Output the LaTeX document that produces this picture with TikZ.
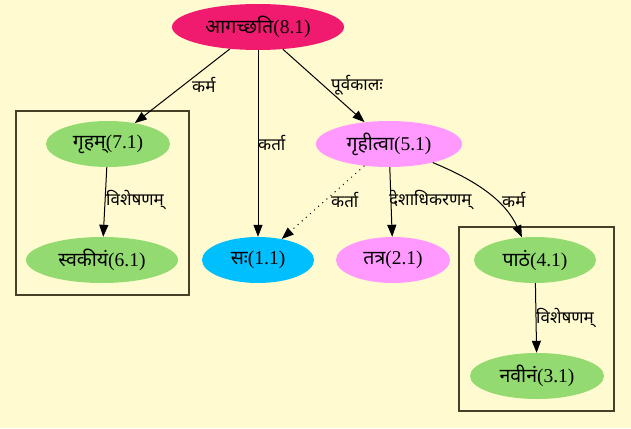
\documentclass[tikz,border=0pt]{standalone}
\usepackage{fontspec}
\setmainfont{Liberation Serif}
\newfontfamily\dev[Script=Devanagari]{Noto Sans}
\usetikzlibrary{shapes.geometric,arrows.meta}
\definecolor{bgc}{RGB}{255,250,208}
\definecolor{pinkc}{RGB}{240,26,110}
\definecolor{greenc}{RGB}{147,219,112}
\definecolor{bluec}{RGB}{0,191,255}
\definecolor{violc}{RGB}{255,153,255}
\definecolor{boxc}{RGB}{70,64,40}
\tikzset{
  nd/.style={ellipse, inner sep=0pt, font=\fontsize{19.5}{22}\selectfont},
  arr/.style={-{Triangle[length=12pt,width=9pt]}, line width=1pt},
  dotarr/.style={arr, dash pattern=on 1pt off 4.5pt},
  lbl/.style={anchor=west, inner sep=0pt, font=\fontsize{17}{19}\selectfont},
  clus/.style={draw=boxc, line width=1.1pt}
}
\begin{document}
\begin{tikzpicture}[x=1pt,y=-1pt]
\fill[bgc] (0,0) rectangle (631,428);
\useasboundingbox (0,0) rectangle (631,428);
\draw[clus] (16,111) rectangle (189,295);
\draw[clus] (459,227) rectangle (614,411);
\node[nd, fill=pinkc, minimum width=172pt, minimum height=46pt] (n8) at (258,27) {\dev आगच्छति\rmfamily(8.1)};
\node[nd, fill=greenc, minimum width=124pt, minimum height=46pt] (n7) at (108,144) {\dev गृहम्\rmfamily(7.1)};
\node[nd, fill=greenc, minimum width=152pt, minimum height=46pt] (n6) at (102,260) {\dev स्वकीयं\rmfamily(6.1)};
\node[nd, fill=bluec, minimum width=112pt, minimum height=46pt] (n1) at (258,260) {\dev सः\rmfamily(1.1)};
\node[nd, fill=violc, minimum width=146pt, minimum height=46pt] (n5) at (389,144) {\dev गृहीत्वा\rmfamily(5.1)};
\node[nd, fill=violc, minimum width=114pt, minimum height=46pt] (n2) at (393,260) {\dev तत्र\rmfamily(2.1)};
\node[nd, fill=greenc, minimum width=122pt, minimum height=46pt] (n4) at (535,260) {\dev पाठं\rmfamily(4.1)};
\node[nd, fill=greenc, minimum width=134pt, minimum height=46pt] (n3) at (537,376) {\dev नवीनं\rmfamily(3.1)};
\draw[arr] (n8) -- (n7);
\draw[arr] (n8) -- (n1);
\draw[arr] (n8) -- (n5);
\draw[arr] (n7) -- (n6);
\draw[dotarr] (n5) -- (n1);
\draw[arr] (n5) -- (n2);
\draw[arr] (n5.-23) .. controls (475,180) and (505,200) .. (n4.120);
\draw[arr] (n4) -- (n3);
\node[lbl] (l1) at (192,85) {\dev कर्म};
\node[lbl] (l2) at (258,143) {\dev कर्ता};
\node[lbl] (l3) at (331,85) {\dev पूर्वकालः};
\node[lbl] (l4) at (106,200) {\dev विशेषणम्};
\node[lbl] (l5) at (331,200) {\dev कर्ता};
\node[lbl] (l6) at (389,200) {\dev देशाधिकरणम्};
\node[lbl] (l7) at (502,200) {\dev कर्म};
\node[lbl] (l8) at (536,318) {\dev विशेषणम्};
\end{tikzpicture}
\end{document}
